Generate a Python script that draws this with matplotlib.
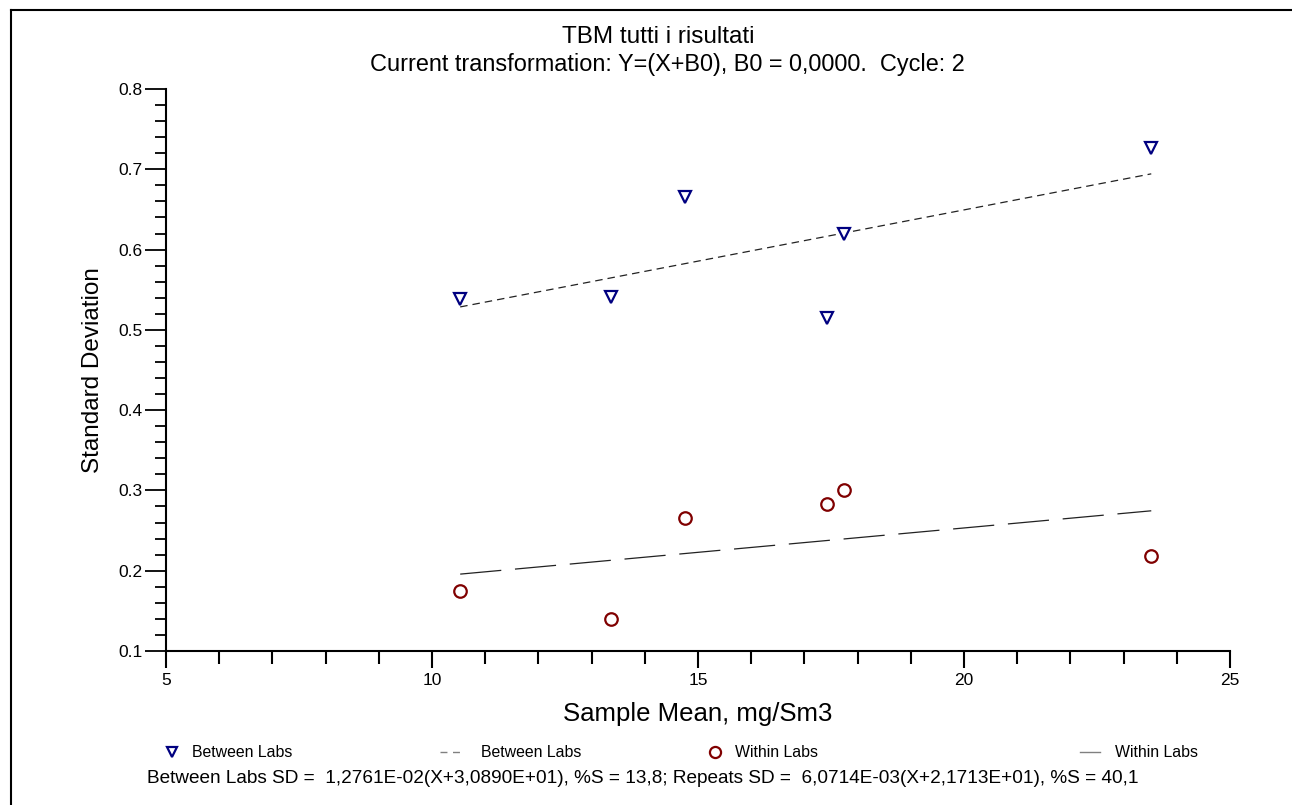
import matplotlib
matplotlib.use("Agg")
import matplotlib.pyplot as plt
from matplotlib.lines import Line2D
import numpy as np

plt.rcParams['font.family'] = ['Liberation Sans', 'DejaVu Sans']

# Data
sample_mean = [10.53, 13.36, 14.76, 17.42, 17.74, 23.52]
between_sd = [0.538, 0.541, 0.665, 0.515, 0.619, 0.727]
within_sd = [0.175, 0.140, 0.266, 0.283, 0.301, 0.218]
# Fit coefficients: SD = a*(X+b)
between_fit = (1.2761e-02, 3.0890e+01)
within_fit = (6.0714e-03, 2.1713e+01)

title = "TBM tutti i risultati"
subtitle = "Current transformation: Y=(X+B0), B0 = 0,0000.  Cycle: 2"
xlabel = "Sample Mean, mg/Sm3"
ylabel = "Standard Deviation"
footer = ("Between Labs SD =  1,2761E-02(X+3,0890E+01), %S = 13,8; "
          "Repeats SD =  6,0714E-03(X+2,1713E+01), %S = 40,1")
legend_labels = ["Between Labs", "Between Labs", "Within Labs", "Within Labs"]

W, H = 1292, 805
fig = plt.figure(figsize=(W / 100, H / 100), dpi=100)
ax = fig.add_axes([166 / W, 1 - 651 / H, (1230 - 166) / W, (651 - 89) / H])

navy = '#000080'
dred = '#800000'

ax.plot(sample_mean, between_sd, linestyle='none', marker='v', markersize=8,
        markerfacecolor='white', markeredgecolor=navy, markeredgewidth=1.6, zorder=3)
ax.plot(sample_mean, within_sd, linestyle='none', marker='o', markersize=9,
        markerfacecolor='white', markeredgecolor=dred, markeredgewidth=1.6, zorder=3)

xf = np.array([min(sample_mean), max(sample_mean)])
ax.plot(xf, between_fit[0] * (xf + between_fit[1]), color='#222222', lw=0.9,
        dashes=(6, 4))
ax.plot(xf, within_fit[0] * (xf + within_fit[1]), color='#222222', lw=0.9,
        dashes=(33, 11))

ax.set_xlim(5, 25)
ax.set_ylim(0.1, 0.8)
ax.set_xticks([5, 10, 15, 20, 25])
ax.set_xticks(np.arange(5, 26, 1), minor=True)
ax.set_yticks(np.arange(0.1, 0.81, 0.1))
ax.set_yticks(np.arange(0.1, 0.801, 0.02), minor=True)
ax.set_yticklabels([f"{v:.1f}" for v in np.arange(0.1, 0.81, 0.1)])
for s in ['top', 'right']:
    ax.spines[s].set_visible(False)
for s in ['left', 'bottom']:
    ax.spines[s].set_linewidth(1.5)
ax.tick_params(axis='x', which='major', direction='out', length=12, width=1.5,
               labelsize=12.5, pad=4)
ax.tick_params(axis='x', which='minor', direction='out', length=9, width=1.5)
ax.tick_params(axis='y', which='major', direction='out', length=15, width=1.3,
               labelsize=12.5, pad=2)
ax.tick_params(axis='y', which='minor', direction='out', length=8, width=1.3)
ax.set_xlabel(xlabel, fontsize=18.5, labelpad=10)
ax.set_ylabel(ylabel, fontsize=17.5, labelpad=10)

fig.text(0.5 * (555 + 762) / W, 1 - 37 / H, title, ha='center', va='center', fontsize=17.5)
fig.text(0.5 * (370 + 965) / W, 1 - 64 / H, subtitle, ha='center', va='center', fontsize=16.9)

# Legend row (manual)
ly = 1 - 752 / H
fig.add_artist(Line2D([172 / W], [ly], marker='v', markersize=7, linestyle='none',
                      markerfacecolor='white', markeredgecolor=navy, markeredgewidth=1.6))
fig.text(192 / W, ly, legend_labels[0], va='center', fontsize=11.4)
fig.add_artist(Line2D([440 / W, 462 / W], [ly, ly], color='#808080', lw=1, dashes=(5, 4)))
fig.text(481 / W, ly, legend_labels[1], va='center', fontsize=11.4)
fig.add_artist(Line2D([715 / W], [ly], marker='o', markersize=8, linestyle='none',
                      markerfacecolor='white', markeredgecolor=dred, markeredgewidth=1.6))
fig.text(735 / W, ly, legend_labels[2], va='center', fontsize=11.4)
fig.add_artist(Line2D([1080 / W, 1100 / W], [ly, ly], color='#808080', lw=1))
fig.text(1115 / W, ly, legend_labels[3], va='center', fontsize=11.4)

fig.text(147 / W, 1 - 778 / H, footer, va='center', fontsize=13.65)

# Figure border (left and top)
fig.add_artist(Line2D([11 / W, 11 / W], [0, 1 - 10 / H], color='black', lw=1.5))
fig.add_artist(Line2D([11 / W, 1], [1 - 10 / H, 1 - 10 / H], color='black', lw=1.5))

fig.savefig('out.png', dpi=100)
